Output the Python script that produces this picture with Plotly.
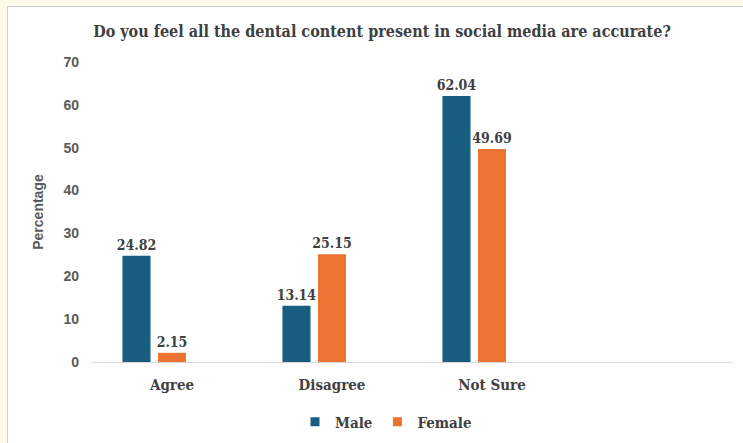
import plotly.graph_objects as go

categories = ["Agree", "Disagree", "Not Sure"]
male = [24.82, 13.14, 62.04]
female = [2.15, 25.15, 49.69]
title = "Do you feel all the dental content present in social media are accurate?"
y_title = "Percentage"
male_color = "#175E80"
female_color = "#EC7432"

W, H = 743, 443
L, R, T, B = 92, 11, 62, 81
pw, ph = W - L - R, H - T - B

def px(x):
    return (x - L) / pw

def py(y):
    return (H - B - y) / ph

serif = "DejaVu Serif Condensed"
sans = "Liberation Sans"
txt = "#404040"

fig = go.Figure()
fig.add_trace(go.Bar(name="Male", x=categories, y=male, marker_color=male_color,
                     marker_line_width=0, text=[f"{v:.2f}" for v in male],
                     textposition="outside", cliponaxis=False, constraintext="none",
                     showlegend=False,
                     textfont=dict(family=serif, size=14, color=txt, weight="bold")))
fig.add_trace(go.Bar(name="Female", x=categories, y=female, marker_color=female_color,
                     marker_line_width=0, text=[f"{v:.2f}" for v in female],
                     textposition="outside", cliponaxis=False, constraintext="none",
                     showlegend=False,
                     textfont=dict(family=serif, size=14, color=txt, weight="bold")))
fig.add_trace(go.Bar(name="", x=categories, y=[None, None, None], showlegend=False,
                     hoverinfo="skip"))
# legend entries with small square markers
fig.add_trace(go.Scatter(name="Male", x=[None], y=[None], mode="markers",
                         marker=dict(symbol="square", size=9, color=male_color)))
fig.add_trace(go.Scatter(name="Female", x=[None], y=[None], mode="markers",
                         marker=dict(symbol="square", size=9, color=female_color)))

fig.add_shape(type="rect", xref="paper", yref="paper",
              x0=px(7.5), x1=px(760), y0=py(460), y1=py(6.5),
              fillcolor="white", line=dict(color="#D4D2C8", width=1), layer="below")

fig.update_layout(
    width=W, height=H,
    margin=dict(l=L, r=R, t=T, b=B, autoexpand=False),
    paper_bgcolor="#FFFBE8", plot_bgcolor="rgba(0,0,0,0)",
    barmode="group", bargap=0.334, bargroupgap=0.21,
    title=dict(text=title, x=382 / W, xref="container", xanchor="center",
               y=1 - 31 / H, yref="container", yanchor="middle",
               font=dict(family=serif, size=16, color=txt, weight="bold")),
    showlegend=True,
    legend=dict(orientation="h", x=386 / W, xref="container", xanchor="center",
                y=1 - 422 / H, yref="container", yanchor="middle",
                font=dict(family=serif, size=15, color=txt, weight="bold"),
                itemwidth=30, traceorder="normal", bgcolor="rgba(0,0,0,0)"),
    xaxis=dict(range=[-0.5, 3.5], showgrid=False, showline=True, linecolor="#D9D9D9",
               linewidth=1, ticks="", ticklabelstandoff=9, automargin=False,
               tickfont=dict(family=serif, size=15, color=txt, weight="bold")),
    yaxis=dict(range=[0, 70], dtick=10, showgrid=False, showline=False, zeroline=False,
               ticks="", ticklabelstandoff=12, automargin=False,
               tickfont=dict(family=sans, size=14, color="#595959", weight="bold"),
               title=dict(text=y_title, standoff=16,
                          font=dict(family=sans, size=14, color="#595959", weight="bold"))),
)

fig.write_html("out.html")
